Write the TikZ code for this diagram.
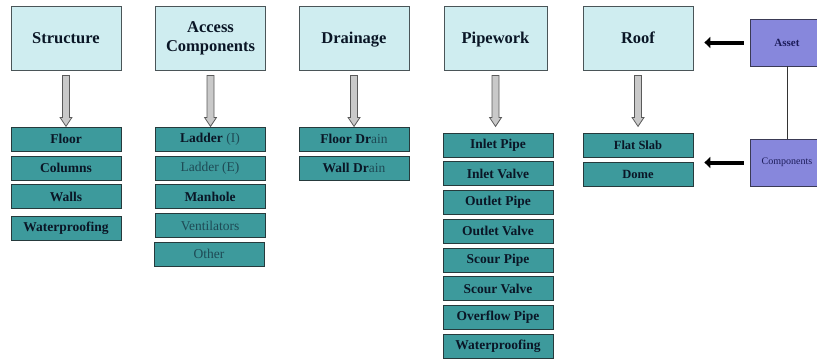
\documentclass[tikz,border=0pt]{standalone}
\usepackage{fontspec}
\setmainfont{Liberation Serif}[BoldFont={Liberation Serif Bold}]
\usetikzlibrary{arrows.meta,calc}
\definecolor{topfill}{HTML}{CFEDF0}
\definecolor{topline}{HTML}{4A5558}
\definecolor{tealfill}{HTML}{3D9A9C}
\definecolor{tealline}{HTML}{263A3C}
\definecolor{purpfill}{HTML}{8787DC}
\definecolor{purpline}{HTML}{3A3A55}
\definecolor{txt}{HTML}{0A1626}
\definecolor{litetxt}{HTML}{1E4A55}
\definecolor{purptxt}{HTML}{1C1C5A}
\definecolor{arrfill}{HTML}{C9C9C9}
\definecolor{arrline}{HTML}{5A5A5A}
\tikzset{
  topbox/.style={draw=topline, line width=0.8pt, fill=topfill, minimum width=110pt, minimum height=64pt,
    inner sep=0pt, align=center, text=txt, font=\fontsize{16.5}{19}\selectfont\bfseries},
  subbox/.style={draw=tealline, line width=1pt, fill=tealfill, minimum width=110pt, minimum height=24pt,
    inner sep=0pt, text=txt, font=\fontsize{13.5}{15}\selectfont\bfseries},
  litebox/.style={subbox, text=litetxt, font=\fontsize{13.5}{15}\selectfont},
  roofsub/.style={subbox, font=\fontsize{12.5}{14}\selectfont\bfseries},
  purpbox/.style={draw=purpline, line width=0.8pt, fill=purpfill, minimum width=74pt, minimum height=47pt,
    inner sep=0pt, text=purptxt},
  grayarrow/.style={draw=arrline, line width=0.8pt, fill=arrfill},
  blackarrow/.style={line width=4pt, -{Triangle[length=6pt,width=11pt]}},
  thinline/.style={draw=black!80, line width=0.6pt}
}
\newcommand\hollowarrow[1]{%
  \draw[grayarrow] ($(#1.south)+(-3.5,5)$) -- ($(#1.south)+(3.5,5)$) -- ($(#1.south)+(3.5,47)$)
    -- ($(#1.south)+(6,47)$) -- ($(#1.south)+(0,56)$) -- ($(#1.south)+(-6,47)$)
    -- ($(#1.south)+(-3.5,47)$) -- cycle;}
\newcommand\lt[1]{{\mdseries\color{litetxt}#1}}
\begin{document}
\begin{tikzpicture}[x=1pt,y=-1pt]
\useasboundingbox (0,0) rectangle (817,359);
% top boxes
\node[topbox] (structure) at (66,38) {Structure};
\node[topbox] (access) at (210.5,38) {Access\\Components};
\node[topbox, text depth=0pt] (drainage) at (354,38) {Drainage};
\node[topbox, minimum width=103pt, text depth=0pt] (pipework) at (495.5,38) {Pipework};
\node[topbox] (roof) at (638,38) {Roof};
% purple boxes
\node[purpbox, font=\fontsize{11}{13}\selectfont\bfseries] (asset) at (787,42.5) {Asset};
\node[purpbox, font=\fontsize{10}{12}\selectfont] (components) at (787,162.5) {Components};
% hollow arrows
\hollowarrow{structure}
\hollowarrow{access}
\hollowarrow{drainage}
\hollowarrow{pipework}
\hollowarrow{roof}
% structure children
\node[subbox] (floor) at (66,139) {Floor};
\node[subbox] (columns) at (66,168) {Columns};
\node[subbox] (walls) at (66,196.5) {Walls};
\node[subbox] (swater) at (66,228.5) {Waterproofing};
% access children
\node[subbox] (ladderi) at (210,139) {Ladder \lt{(I)}};
\node[litebox] (laddere) at (210,168) {Ladder (E)};
\node[subbox] (manhole) at (210,196.5) {Manhole};
\node[litebox] (vent) at (210,225.5) {Ventilators};
\node[litebox] (other) at (209,254) {Other};
% drainage children
\node[subbox] (floordrain) at (354,139) {Floor Dr\lt{ain}};
\node[subbox] (walldrain) at (354,168) {Wall Dr\lt{ain}};
% pipework children
\node[subbox] (inletpipe) at (498,145) {Inlet Pipe};
\node[subbox] (inletvalve) at (498,173.5) {Inlet Valve};
\node[subbox] (outletpipe) at (498,202.5) {Outlet Pipe};
\node[subbox] (outletvalve) at (498,231) {Outlet Valve};
\node[subbox] (scourpipe) at (498,260) {Scour Pipe};
\node[subbox] (scourvalve) at (498,288.5) {Scour Valve};
\node[subbox] (overflow) at (498,317.5) {Overflow Pipe};
\node[subbox] (pwater) at (498,346) {Waterproofing};
% roof children
\node[roofsub] (flatslab) at (638,145) {Flat Slab};
\node[roofsub] (dome) at (638,174) {Dome};
% connectors
\draw[thinline] (asset.south) -- (components.north);
\draw[blackarrow, shorten <=6pt, shorten >=11pt] (asset.west) -- (asset.west -| roof.east);
\draw[blackarrow, shorten <=6pt, shorten >=11pt] (components.west) -- (components.west -| roof.east);
\end{tikzpicture}
\end{document}
